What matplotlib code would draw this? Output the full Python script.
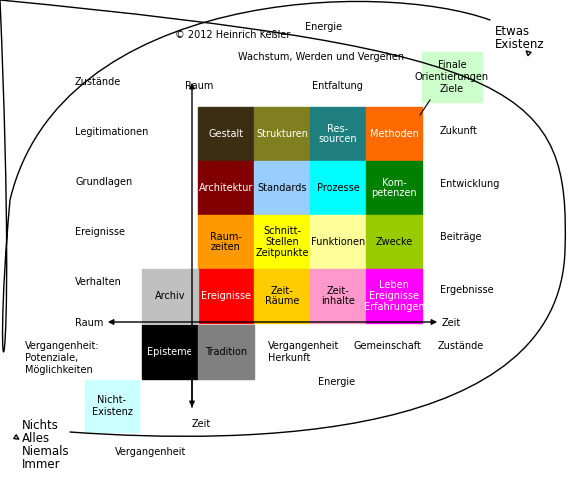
import matplotlib.pyplot as plt
from matplotlib.patches import Rectangle, FancyArrowPatch
from matplotlib.path import Path
import matplotlib.patches as mpatches

# grid cell labels and colors (rows top->bottom, cols left->right)
cell_labels = [
    ["Gestalt", "Strukturen", "Res-\nsourcen", "Methoden"],
    ["Architektur", "Standards", "Prozesse", "Kom-\npetenzen"],
    ["Raum-\nzeiten", "Schnitt-\nStellen\nZeitpunkte", "Funktionen", "Zwecke"],
    ["Ereignisse", "Zeit-\nRäume", "Zeit-\ninhalte", "Leben\nEreignisse\nErfahrungen"],
]
cell_colors = [
    ["#3b2e12", "#7f7f20", "#1f7f7f", "#ff6a00"],
    ["#800000", "#99ccff", "#00ffff", "#008000"],
    ["#ff9900", "#ffff00", "#ffff99", "#99cc00"],
    ["#ff0000", "#ffcc00", "#ff99cc", "#ff00ff"],
]
text_white = [
    [1, 1, 1, 1],
    [1, 0, 0, 1],
    [0, 0, 0, 0],
    [1, 0, 0, 1],
]
# extra cells: (label, col, row, color, white text)
extra_cells = [("Archiv", -1, 3, "#c0c0c0", 0),
               ("Episteme", -1, 4, "#000000", 1),
               ("Tradition", 0, 4, "#808080", 0)]

left_labels = ["Zustände", "Legitimationen", "Grundlagen", "Ereignisse", "Verhalten"]
right_labels = ["Zukunft", "Entwicklung", "Beiträge", "Ergebnisse"]

fig = plt.figure(figsize=(5.75, 4.83), dpi=100)
ax = fig.add_axes([0, 0, 1, 1])
ax.set_xlim(0, 575)
ax.set_ylim(483, 0)
ax.axis("off")

x0, y0, cw, ch = 198, 107, 56, 54
fs = 7
for r, row in enumerate(cell_labels):
    for c, lab in enumerate(row):
        x, y = x0 + c * cw, y0 + r * ch
        ax.add_patch(Rectangle((x, y), cw, ch, color=cell_colors[r][c], zorder=1))
        ax.text(x + cw / 2, y + ch / 2, lab, ha="center", va="center", fontsize=fs,
                color="white" if text_white[r][c] else "black", zorder=3, linespacing=1.1)
for lab, c, r, col, w in extra_cells:
    x, y = x0 + c * cw, y0 + r * ch + (2 if r == 4 else 0)
    ax.add_patch(Rectangle((x, y), cw, ch, color=col, zorder=1))
    ax.text(x + cw / 2, y + ch / 2, lab, ha="center", va="center", fontsize=fs,
            color="white" if w else "black", zorder=3)

# axes arrows
ax.annotate("", xy=(440, 322), xytext=(105, 322),
            arrowprops=dict(arrowstyle="<|-|>", color="black", lw=1, mutation_scale=8), zorder=4)
ax.annotate("", xy=(192, 80), xytext=(192, 410),
            arrowprops=dict(arrowstyle="-|>", color="black", lw=1, mutation_scale=8), zorder=4)
ax.annotate("", xy=(192, 410), xytext=(192, 322),
            arrowprops=dict(arrowstyle="-|>", color="black", lw=1, mutation_scale=8), zorder=4)

for i, lab in enumerate(left_labels):
    ax.text(75, 85 + i * 50, lab, fontsize=fs)
for i, lab in enumerate(right_labels):
    ax.text(440, 134 + i * 53, lab, fontsize=fs)

texts = [
    (175, 35, "© 2012 Heinrich Keßler"), (305, 27, "Energie"),
    (238, 57, "Wachstum, Werden und Vergehen"), (312, 86, "Entfaltung"),
    (185, 86, "Raum"), (75, 323, "Raum"), (442, 323, "Zeit"), (192, 424, "Zeit"),
    (268, 346, "Vergangenheit"), (268, 358, "Herkunft"), (354, 346, "Gemeinschaft"),
    (438, 346, "Zustände"), (318, 382, "Energie"), (115, 452, "Vergangenheit"),
    (25, 346, "Vergangenheit:"), (25, 358, "Potenziale,"), (25, 370, "Möglichkeiten"),
]
for x, y, t in texts:
    ax.text(x, y, t, fontsize=fs, va="center")
ax.text(495, 38, "Etwas\nExistenz", fontsize=8.5, va="center", linespacing=1.0)
ax.text(22, 445, "Nichts\nAlles\nNiemals\nImmer", fontsize=8.5, va="center", linespacing=1.0)

ax.add_patch(Rectangle((422, 52), 60, 50, color="#ccffcc", zorder=1))
ax.text(452, 77, "Finale\nOrientierungen\nZiele", fontsize=fs, ha="center", va="center")
ax.add_patch(Rectangle((85, 380), 54, 52, color="#ccffff", zorder=1))
ax.text(112, 406, "Nicht-\nExistenz", fontsize=fs, ha="center", va="center")
ax.plot([420, 430], [115, 100], color="black", lw=0.8)

# big curves
p1 = Path([(490, 20), (380, -20), (60, -10), (10, 200), (-10, 420), (20, 440)],
          [Path.MOVETO, Path.CURVE4, Path.CURVE4, Path.CURVE4, Path.CURVE4, Path.CURVE4])
ax.add_patch(FancyArrowPatch(path=p1, arrowstyle="-|>", mutation_scale=8, lw=1, color="black", fill=False))
p2 = Path([(70, 432), (250, 445), (560, 440), (565, 250), (570, 90), (525, 50)],
          [Path.MOVETO, Path.CURVE4, Path.CURVE4, Path.CURVE4, Path.CURVE4, Path.CURVE4])
ax.add_patch(FancyArrowPatch(path=p2, arrowstyle="-|>", mutation_scale=8, lw=1, color="black", fill=False))

fig.savefig("out.png", dpi=100)
